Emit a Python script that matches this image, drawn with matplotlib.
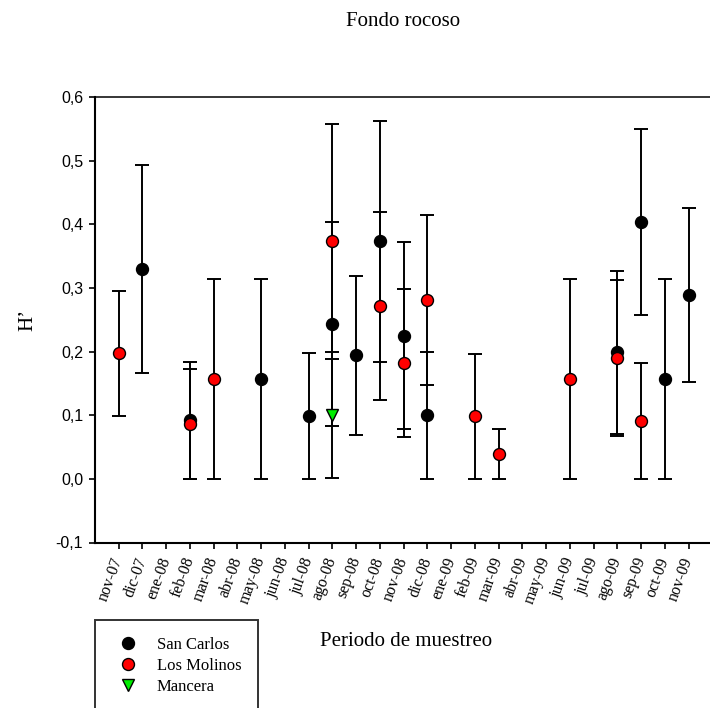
import numpy as np
import matplotlib
matplotlib.use("Agg")
import matplotlib.pyplot as plt

# sampling months
months = ['nov-07', 'dic-07', 'ene-08', 'feb-08', 'mar-08', 'abr-08', 'may-08',
          'jun-08', 'jul-08', 'ago-08', 'sep-08', 'oct-08', 'nov-08', 'dic-08',
          'ene-09', 'feb-09', 'mar-09', 'abr-09', 'may-09', 'jun-09', 'jul-09',
          'ago-09', 'sep-09', 'oct-09', 'nov-09']

nan = np.nan

# Shannon diversity H' (mean and error) per site
san_carlos = [nan, 0.330, nan, 0.092, nan, nan, 0.157, nan, 0.099, 0.243, 0.194,
              0.373, 0.225, 0.100, nan, nan, nan, nan, nan, nan, nan, 0.199,
              0.403, 0.157, 0.289]
san_carlos_err = [nan, 0.163, nan, 0.092, nan, nan, 0.157, nan, 0.099, 0.160,
                  0.125, 0.189, 0.147, 0.100, nan, nan, nan, nan, nan, nan, nan,
                  0.128, 0.146, 0.157, 0.137]

los_molinos = [0.197, nan, nan, 0.086, 0.157, nan, nan, nan, nan, 0.373, nan,
               0.272, 0.182, 0.281, nan, 0.098, 0.039, nan, nan, 0.157, nan,
               0.190, 0.091, nan, nan]
los_molinos_err = [0.098, nan, nan, 0.086, 0.157, nan, nan, nan, nan, 0.185, nan,
                   0.148, 0.117, 0.133, nan, 0.098, 0.039, nan, nan, 0.157, nan,
                   0.122, 0.091, nan, nan]

mancera = [nan] * 9 + [0.100] + [nan] * 15
mancera_err = [nan] * 9 + [0.099] + [nan] * 15

y_ticks = [-0.1, 0.0, 0.1, 0.2, 0.3, 0.4, 0.5, 0.6]
y_tick_labels = ['-0,1', '0,0', '0,1', '0,2', '0,3', '0,4', '0,5', '0,6']

serif = 'Liberation Serif'
sans = 'Liberation Sans'

W, H = 710, 708
fig = plt.figure(figsize=(W / 100, H / 100), dpi=100)
ax = fig.add_axes([95 / W, 1 - 542.5 / H, 617.5 / W, 445.5 / H])

x = np.arange(len(months))
series = [
    (san_carlos, san_carlos_err, 'San Carlos', 'o', 'black', 8.6),
    (los_molinos, los_molinos_err, 'Los Molinos', 'o', 'red', 8.6),
    (mancera, mancera_err, 'Mancera', 'v', '#00ee00', 8.0),
]
for vals, errs, name, mk, col, ms in series:
    vals = np.array(vals)
    errs = np.array(errs)
    ax.errorbar(x, vals, yerr=errs, fmt='none', ecolor='black',
                elinewidth=1.4, capsize=4.8, capthick=1.4, zorder=2)
for vals, errs, name, mk, col, ms in series:
    ax.plot(x, vals, ls='none', marker=mk, ms=ms, mfc=col, mec='black',
            mew=1.0, label=name, zorder=3)

ax.set_xlim(-1, 25)
ax.set_ylim(-0.1, 0.6)
ax.set_xticks(x)
ax.set_xticklabels(months, rotation=70, ha='right', va='center',
                   rotation_mode='anchor', fontfamily=serif, fontsize=11.5)
ax.set_yticks(y_ticks)
ax.set_yticklabels(y_tick_labels, fontfamily=sans, fontsize=11.5)

ax.spines['right'].set_visible(False)
ax.spines['left'].set_linewidth(1.5)
ax.spines['bottom'].set_linewidth(1.5)
ax.spines['top'].set_linewidth(1.1)
ax.tick_params(axis='y', direction='out', length=4.5, width=1.2, pad=4)
ax.tick_params(axis='x', direction='out', length=4, width=1.2, pad=7)

fig.text(403 / W, 1 - 21 / H, 'Fondo rocoso', ha='center', va='center',
         fontfamily=serif, fontsize=15)
fig.text(406 / W, 1 - 641 / H, 'Periodo de muestreo', ha='center', va='center',
         fontfamily=serif, fontsize=15)
fig.text(28 / W, 1 - 320 / H, 'H’', ha='center', va='center', rotation=90,
         fontfamily=serif, fontsize=15)

leg = fig.legend(loc='upper left', bbox_to_anchor=(95 / W, 1 - 620 / H),
                 frameon=True, fancybox=False, borderaxespad=0,
                 prop={'family': serif, 'size': 12}, handlelength=2.0,
                 handletextpad=0.7, borderpad=1.0, labelspacing=0.3)
leg.get_frame().set_edgecolor('black')
leg.get_frame().set_linewidth(1.4)

fig.savefig('out.png', dpi=100)
